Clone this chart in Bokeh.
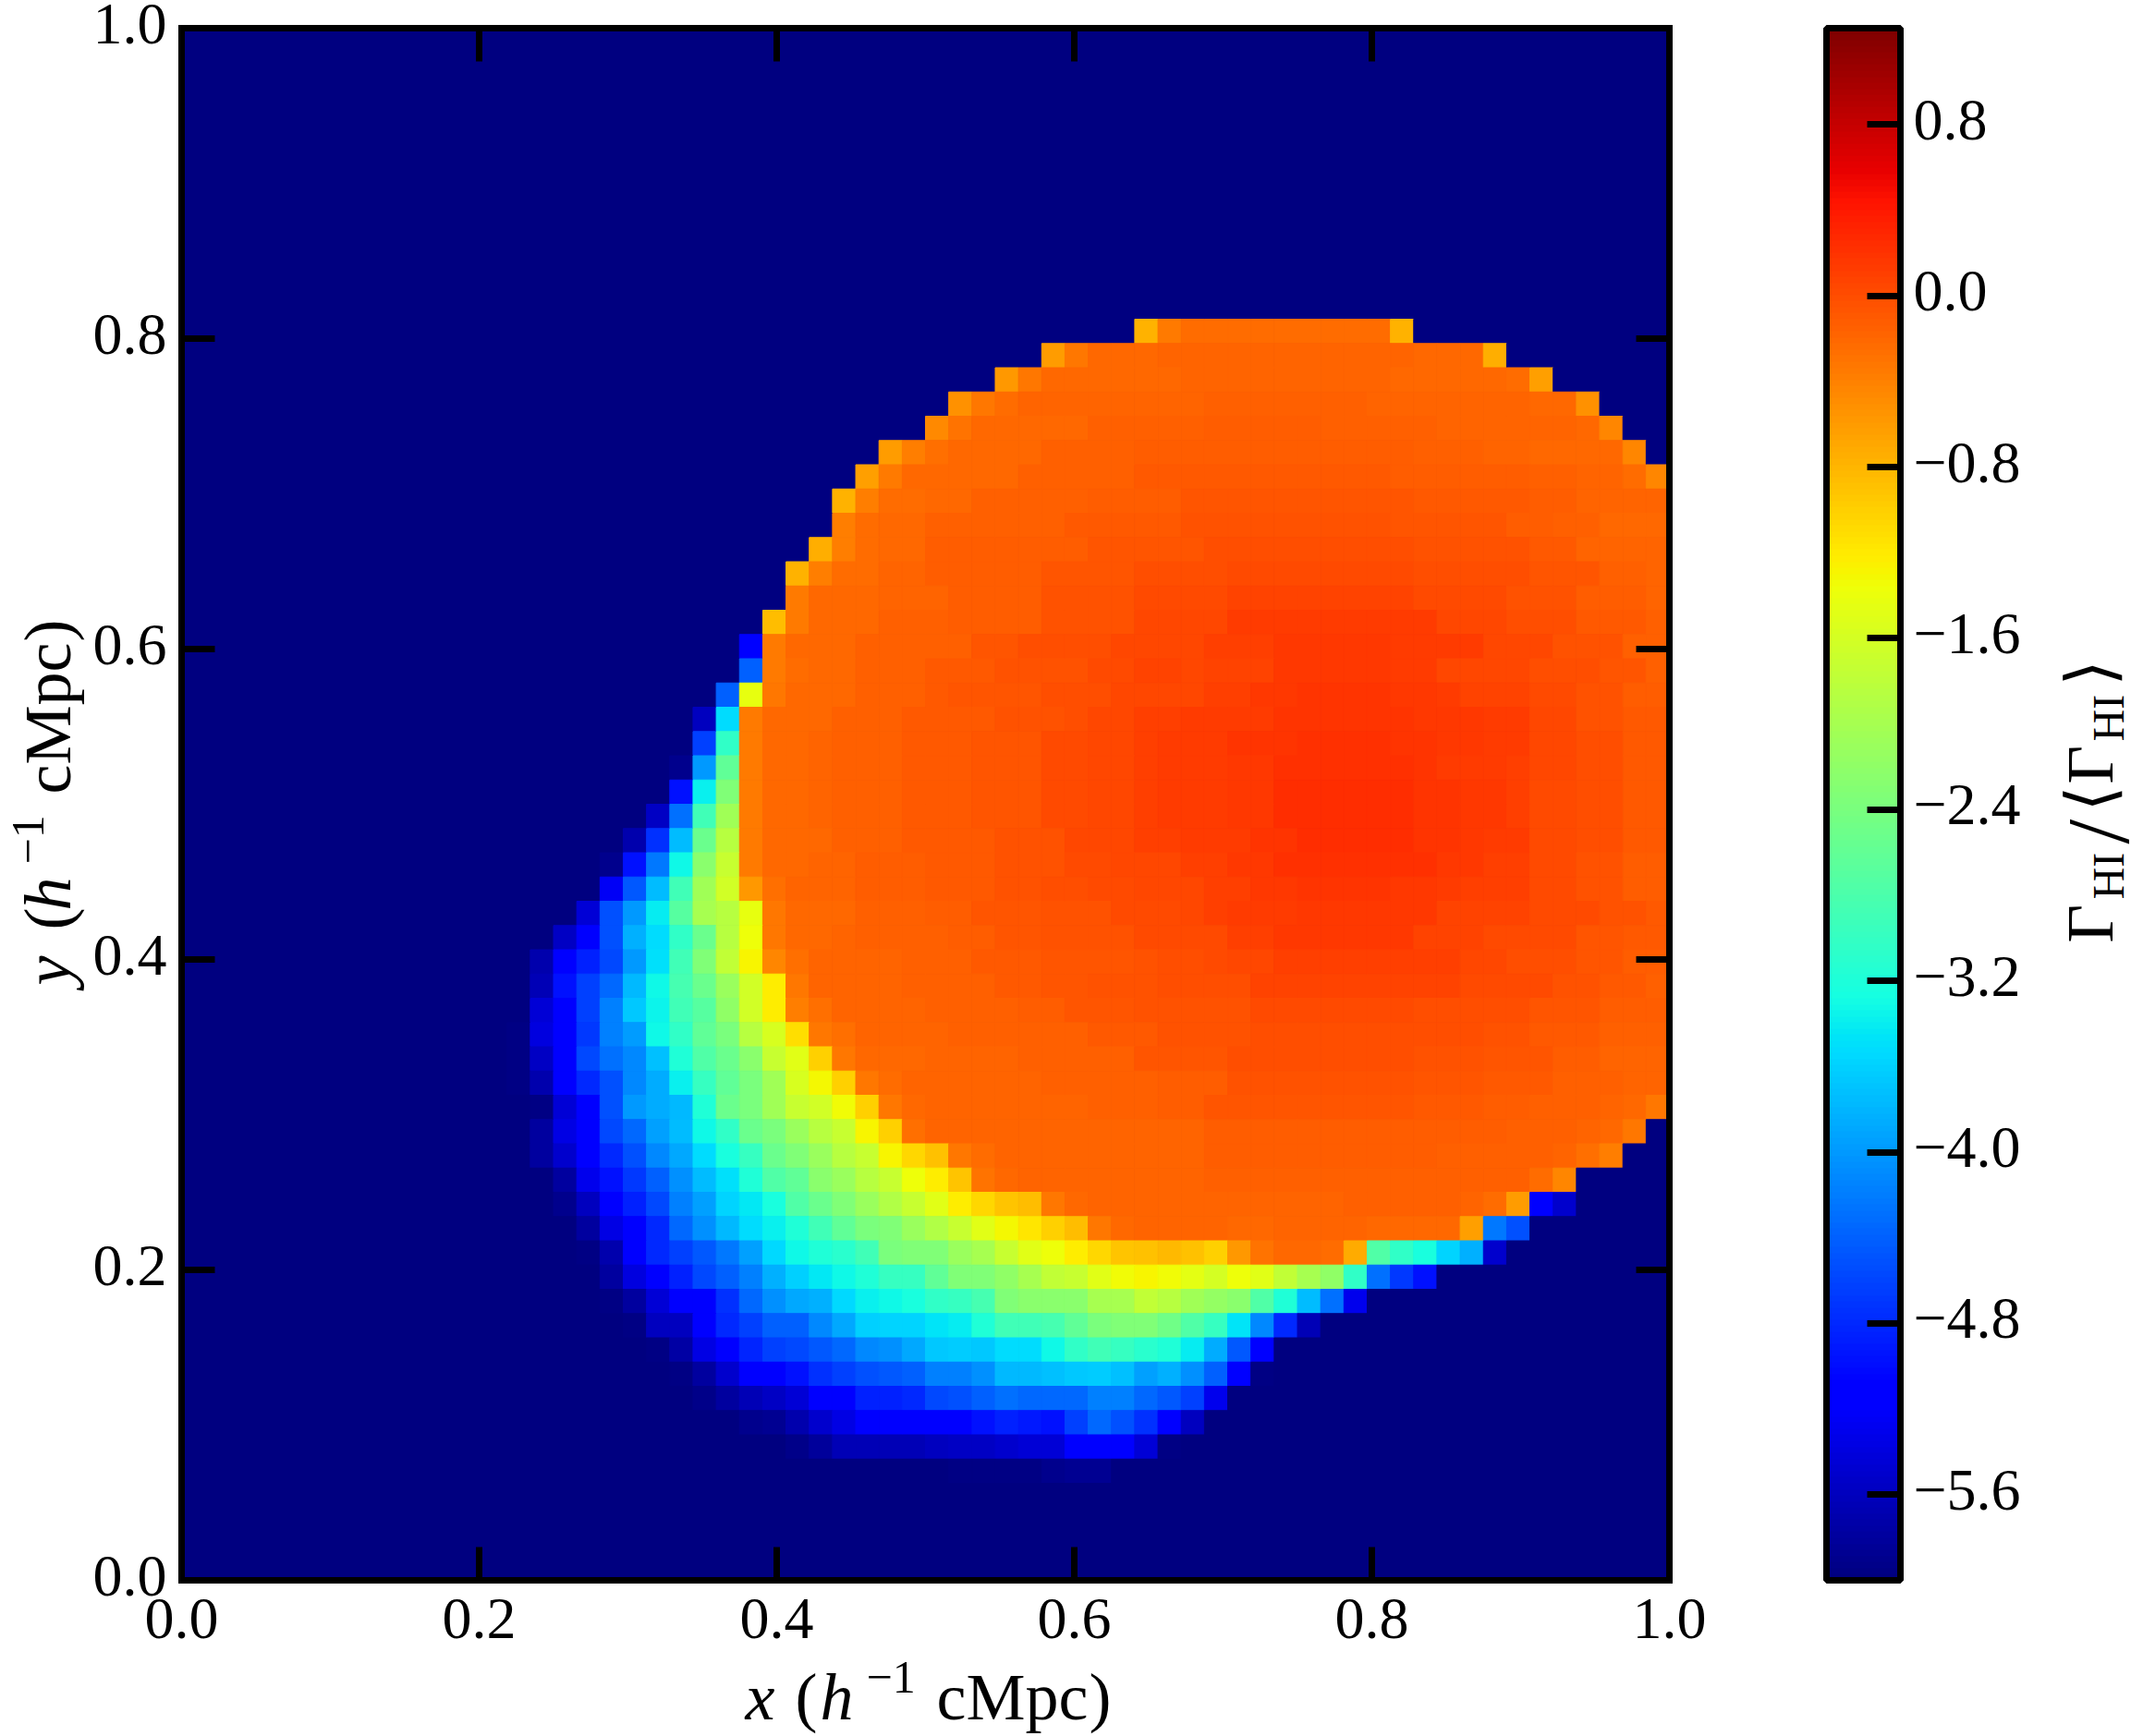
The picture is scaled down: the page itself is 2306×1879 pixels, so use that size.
from bokeh.embed import file_html
from bokeh.resources import INLINE
from bokeh.plotting import figure
from bokeh.models import (ColorBar, ColumnDataSource, FixedTicker, Label, LinearAxis,
                          LinearColorMapper, PrintfTickFormatter, Range1d)
from bokeh.transform import linear_cmap
import numpy as np

N = 64
LO = -6.0
v_low, v_high = -6.0, 1.25
axis_ticks = [0.0, 0.2, 0.4, 0.6, 0.8, 1.0]
bar_ticks = [-5.6, -4.8, -4.0, -3.2, -2.4, -1.6, -0.8, 0.0, 0.8]
bar_tick_labels = ["\u22125.6", "\u22124.8", "\u22124.0", "\u22123.2", "\u22122.4", "\u22121.6", "\u22120.8", "0.0", "0.8"]

# log10 ratio per cell, rows from the top of the map
left_core = [-.35] + [-.20]*2 + [-.18] + [-.14]*3 + [-.09]*3 + [-.06]*3 + [.02]*2 + [.05]*2 + [.11] + [.12]*2 + [.14]
row_12 = [LO]*41 + [-.78, -.35] + [-.23]*9 + [-.78]
row_13 = [LO]*37 + [-.60, -.32] + [-.21]*3 + [-.18]*11 + [-.21]*3 + [-.75]
row_14 = [LO]*35 + [-.57, -.32] + [-.20]*6 + [-.17]*9 + [-.20]*5 + [-.23] + [-.63]
row_15 = [LO]*33 + [-.51, -.32, -.23] + [-.18]*8 + [-.14]*7 + [-.17]*4 + [-.18]*3 + [-.21]*2 + [-.51]
row_16 = [LO]*32 + [-.47, -.29] + [-.20]*5 + [-.15]*5 + [-.12]*5 + [-.15]*5 + [-.18]*6 + [-.21] + [-.44]
row_17 = [LO]*30 + [-.60, -.38, -.26] + [-.20]*4 + [-.15]*4 + [-.12]*12 + [-.14]*3 + [-.17]*2 + [-.20]*4 + [-.44]
row_18 = [LO]*29 + [-.63, -.35] + [-.20]*5 + [-.15]*5 + [-.09]*11 + [-.12]*6 + [-.15]*2 + [-.18]*2 + [-.23] + [-.44]
row_19 = [LO]*28 + [-.78, -.38] + [-.23]*2 + [-.20]*2 + [-.15]*5 + [-.12]*4 + [-.06]*10 + [-.09]*5 + [-.12]*2 + [-.18]*4
row_20 = [LO]*28 + [-.38, -.23] + [-.20]*2 + [-.14]*6 + [-.09]*5 + [-.03]*9 + [-.06]*5 + [-.11]*2 + [-.14]*2 + [-.20]*3
row_21 = [LO]*27 + [-.75, -.38, -.23] + [-.20]*2 + [-.12]*7 + [-.06]*5 + [-.01]*9 + [-.04]*5 + [-.09]*2 + [-.17]*4
row_22 = [LO]*26 + [-.78, -.38] + [-.23]*2 + [-.17]*2 + [-.12]*5 + [-.08]*4 + [-.01]*4 + [.03]*8 + [-.01]*5 + [-.08]*3 + [-.15]*2 + [-.18]
row_23 = [LO]*26 + [-.35] + [-.21]*3 + [-.17]*3 + [-.12]*4 + [-.04]*4 + [.02]*4 + [.08]*8 + [.02]*4 + [-.04]*3 + [-.12]*3 + [-.18]
row_24 = [LO]*25 + [-.87, -.35] + [-.20]*3 + [-.15]*3 + [-.11]*4 + [-.03]*4 + [.05]*4 + [.12]*9 + [.05]*3 + [-.01]*3 + [-.09]*3 + [-.15]
row_25 = [LO]*24 + [-5.2, -.35] + [-.21]*3 + [-.14]*5 + [-.06]*2 + [-.01]*4 + [.05]*4 + [.09]*3 + [.17]*5 + [.12]*4 + [.05]*3 + [-.03]*3 + [-.14]*2
row_26 = [LO]*24 + [-4.41, -.35, -.23] + [-.20]*2 + [-.14]*3 + [-.09]*3 + [-.03]*4 + [.02]*2 + [.08]*2 + [.06] + [.08]*3 + [.155]*5 + [.12]*2 + [.06]*4 + [0.0]*3 + [-.08]*2 + [-.14]
row_27 = [LO]*23 + [-4.41, -1.42, -.32, -.21] + [-.20]*2 + [-.14]*3 + [-.09] + [-.06]*4 + [0.0]*3 + [.05]*4 + [.11]*2 + [.17]*2 + [.20]*4 + [.155]*2 + [.12] + [.08]*3 + [.02]*2 + [-.04]*2 + [-.12]*2
row_28 = [LO]*22 + [-5.6, -3.53, -.35] + [-.20]*3 + [-.14]*3 + [-.09]*4 + [-.04]*3 + [0.0] + [.06]*2 + [.11]*2 + [.12]*2 + [.14]*2 + [.20]*6 + [.155]*3 + [.12]*2 + [.05]*2 + [-.03]*2 + [-.09]*2
row_29 = [LO]*22 + [-4.64, -3.04] + left_core + [.19]*3 + [.23]*4 + [.19]*2 + [.155]*2 + [.12]*2 + [.05]*2 + [-.01]*2 + [-.09]*2
row_30 = [LO]*21 + [-5.9, -4.01, -2.61] + left_core + [.17]*2 + [.23]*6 + [.19] + [.14]*3 + [.09] + [.05]*2 + [-.01]*2 + [-.09]*2
row_31 = [LO]*21 + [-4.98, -3.39, -2.33] + left_core + [.17]*2 + [.25]*6 + [.19]*2 + [.17]*2 + [.11] + [.03]*2 + [-.01]*2 + [-.09]*2
row_32 = [LO]*20 + [-5.55, -4.29, -2.9, -2.05] + left_core + [.17]*2 + [.25]*6 + [.19]*2 + [.17]*2 + [.11] + [.03]*2 + [-.01]*2 + [-.09]*2
row_33 = [LO]*19 + [-5.7, -4.75, -3.75, -2.54, -1.84, -.35] + [-.20]*3 + [-.14]*3 + [-.09]*4 + [-.03]*3 + [.05]*3 + [.09]*2 + [.14]*3 + [.19]*2 + [.25]*5 + [.20]*2 + [.17] + [.12]*2 + [.03]*2 + [-.01]*2 + [-.09]*2
row_34 = [LO]*18 + [-5.9, -4.98, -4.24, -3.32, -2.26, -1.7, -.35] + [-.21]*2 + [-.18]*2 + [-.12]*3 + [-.09]*3 + [-.03]*3 + [.03]*2 + [.06]*3 + [.11]*2 + [.155]*2 + [.22]*7 + [.17]*2 + [.11]*2 + [.03]*2 + [-.03]*2 + [-.11]*2
row_35 = [LO]*18 + [-5.25, -4.46, -3.75, -2.9, -2.05, -1.63, -.57, -.26] + [-.18]*3 + [-.12]*3 + [-.09]*3 + [-.04]*2 + [-.01]*2 + [.03]*2 + [.06]*3 + [.09]*2 + [.155]*2 + [.20]*4 + [.17]*2 + [.12] + [.09]*3 + [.03]*2 + [-.03]*2 + [-.11]*2
row_36 = [LO]*17 + [-5.45, -4.52, -4.01, -3.4, -2.69, -1.98, -1.84, -1.42, -.32] + [-.20]*3 + [-.14]*3 + [-.11]*2 + [-.06]*3 + [-.03]*3 + [.02]*3 + [.05, .09] + [.14]*3 + [.17]*6 + [.08]*4 + [.02]*3 + [-.04]*2 + [-.09]
row_37 = [LO]*16 + [-5.55, -5.2, -4.52, -3.84, -3.53, -3.04, -2.54, -1.84, -1.38, -.32] + [-.21]*2 + [-.18] + [-.14]*4 + [-.11]*2 + [-.08]*2 + [-.03]*4 + [.02]*2 + [.03]*2 + [.11]*2 + [.155]*6 + [.08]*3 + [.02]*4 + [-.06]*2 + [-.09]*2
row_38 = [LO]*15 + [-5.7, -5.2, -4.86, -4.58, -4.01, -3.5, -2.9, -2.33, -1.77, -1.28, -.44, -.26] + [-.18]*4 + [-.14]*3 + [-.09]*3 + [-.06]*4 + [-.03] + [0.0]*2 + [.02] + [.06]*2 + [.09]*8 + [.05]*2 + [0.0]*3 + [-.06]*2 + [-.12]*2
row_39 = [LO]*15 + [-5.65, -4.98, -4.64, -4.35, -3.78, -3.32, -2.83, -2.54, -2.12, -1.63, -1.24, -.32] + [-.18]*4 + [-.14]*4 + [-.09]*2 + [-.08]*2 + [-.04]*3 + [-.01]*2 + [0.0]*2 + [.08]*9 + [.02]*4 + [-.03]*2 + [-.09]*2 + [-.15]
row_40 = [LO]*15 + [-5.45, -5.2, -4.64, -4.18, -3.67, -3.35, -2.9, -2.69, -2.19, -1.63, -1.24, -.38, -.26] + [-.18]*4 + [-.14]*4 + [-.11]*2 + [-.08]*3 + [-.04]*2 + [-.03]*3 + [.02]*7 + [-.01]*5 + [-.06]*3 + [-.12]*3
row_41 = [LO]*14 + [-5.95, -5.4, -5.2, -4.69, -4.18, -3.98, -3.32, -3.04, -2.61, -2.4, -1.84, -1.56, -1.12, -.32, -.26] + [-.18]*4 + [-.14]*6 + [-.09]*3 + [-.04]*3 + [-.03] + [-.01]*10 + [-.04]*2 + [-.09]*3 + [-.15]*3
row_42 = [LO]*14 + [-5.95, -5.55, -5.2, -4.58, -4.29, -4.12, -3.73, -3.18, -2.76, -2.54, -2.26, -1.7, -1.49, -1.0, -.32] + [-.21]*3 + [-.18]*4 + [-.14]*5 + [-.08]*4 + [-.01]*8 + [-.03]*3 + [-.06]*3 + [-.11]*2 + [-.17]*3
row_43 = [LO]*14 + [-5.95, -5.7, -5.2, -4.81, -4.52, -4.12, -3.87, -3.38, -2.97, -2.61, -2.4, -2.05, -1.56, -1.31, -1.0, -.32, -.23] + [-.18]*6 + [-.15]*5 + [-.11]*3 + [-.04]*8 + [-.06]*3 + [-.09]*3 + [-.14]*3 + [-.18]*2
row_44 = [LO]*15 + [-5.95, -5.45, -5.2, -4.52, -4.01, -3.87, -3.78, -3.18, -2.54, -2.4, -2.05, -1.7, -1.63, -1.35, -1.0, -.32, -.2] + [-.17]*7 + [-.14]*3 + [-.11]*2 + [-.08]*9 + [-.09]*3 + [-.11]*2 + [-.14]*3 + [-.17, -.20, -.32]
row_45 = [LO]*15 + [-5.8, -5.35, -5.2, -4.58, -4.35, -3.95, -3.75, -3.32, -3.04, -2.54, -2.4, -2.12, -1.84, -1.7, -1.28, -1.0, -.26, -.18] + [-.17]*11 + [-.11]*10 + [-.12]*3 + [-.14]*3 + [-.17, -.21, -.32]
row_46 = [LO]*15 + [-5.8, -5.5, -5.2, -4.81, -4.52, -4.12, -3.9, -3.53, -3.25, -2.97, -2.54, -2.33, -2.12, -1.84, -1.7, -1.28, -1.06, -.9, -.32, -.23] + [-.17]*9 + [-.12]*10 + [-.14]*3 + [-.15]*2 + [-.18, -.26, -.38]
row_47 = [LO]*16 + [-5.8, -5.3, -4.98, -4.69, -4.41, -4.07, -3.75, -3.5, -3.18, -2.76, -2.61, -2.26, -2.12, -1.84, -1.7, -1.38, -1.24, -.93, -.29, -.2] + [-.17]*8 + [-.14]*11 + [-.15]*3 + [-.23, -.44]
row_48 = [LO]*16 + [-5.9, -5.6, -5.2, -4.86, -4.58, -4.18, -3.95, -3.58, -3.44, -3.25, -2.76, -2.54, -2.33, -2.12, -1.91, -1.7, -1.49, -1.24, -1.06, -.93, -.87, -.32, -.2] + [-.18]*5 + [-.17]*6 + [-.15]*5 + [-.18, -.23, -.60, -5.2, -5.5]
row_49 = [LO]*17 + [-5.8, -5.35, -5.2, -4.81, -4.35, -4.07, -3.78, -3.53, -3.38, -3.18, -2.9, -2.61, -2.4, -2.33, -2.12, -1.91, -1.7, -1.49, -1.31, -1.18, -1.0, -.87, -.32, -.2] + [-.17]*4 + [-.20]*2 + [-.18]*4 + [-.20]*4 + [-.63, -4.24, -4.52]
row_50 = [LO]*17 + [-5.97, -5.7, -5.2, -4.81, -4.64, -4.46, -4.24, -3.95, -3.555, -3.32, -3.18, -3.11, -2.9, -2.4, -2.33, -2.33, -2.12, -1.98, -1.7, -1.49, -1.38, -1.24, -1.06, -.93, -.9, -.84, -.9, -1.0, -.57, -.29, -.2, -.2, -.23, -.72, -2.76, -3.04, -3.25, -3.58, -3.84, -5.5]
row_51 = [LO]*18 + [-5.8, -5.4, -5.2, -4.86, -4.58, -4.41, -4.18, -3.84, -3.61, -3.44, -3.32, -3.18, -2.97, -2.97, -2.61, -2.33, -2.33, -2.19, -1.98, -1.77, -1.7, -1.49, -1.35, -1.28, -1.35, -1.45, -1.6, -1.38, -1.49, -1.77, -1.98, -2.19, -3.04, -4.29, -4.69, -4.98]
row_52 = [LO]*18 + [-5.97, -5.8, -5.45, -5.2, -5.2, -4.75, -4.35, -4.07, -3.9, -3.84, -3.555, -3.39, -3.32, -3.25, -3.04, -2.97, -2.83, -2.33, -2.26, -2.26, -2.26, -1.98, -1.98, -1.77, -1.84, -2.05, -2.15, -2.26, -2.76, -3.18, -3.75, -4.29, -5.3]
row_53 = [LO]*19 + [-5.95, -5.6, -5.6, -5.2, -4.81, -4.64, -4.41, -4.41, -4.12, -3.9, -3.61, -3.58, -3.58, -3.47, -3.4, -3.18, -2.9, -2.9, -2.83, -2.61, -2.4, -2.33, -2.33, -2.47, -2.76, -2.97, -3.47, -4.12, -4.81, -5.65]
row_54 = [LO]*19 + [-5.98, -5.95, -5.75, -5.35, -5.2, -4.83, -4.64, -4.58, -4.46, -4.35, -4.12, -4.07, -3.9, -3.67, -3.64, -3.67, -3.53, -3.53, -3.32, -3.04, -2.9, -2.97, -3.11, -3.18, -3.41, -3.87, -4.46, -5.2]
row_55 = [LO]*21 + [-5.95, -5.8, -5.5, -5.2, -5.2, -4.98, -4.75, -4.64, -4.52, -4.46, -4.41, -4.18, -4.18, -4.07, -3.78, -3.78, -3.73, -3.67, -3.64, -3.73, -3.95, -3.84, -4.07, -4.41, -5.2, -5.97]
row_56 = [LO]*22 + [-5.92, -5.8, -5.65, -5.55, -5.45, -5.2, -5.1, -4.86, -4.86, -4.81, -4.58, -4.52, -4.41, -4.29, -4.35, -4.35, -4.35, -4.18, -4.18, -4.35, -4.46, -4.64, -5.3]
row_57 = [LO]*23 + [-5.99, -5.9, -5.87, -5.7, -5.5, -5.35, -5.2, -5.2, -5.2, -5.2, -5.2, -4.98, -4.86, -4.92, -4.98, -4.64, -4.35, -4.52, -4.75, -5.2, -5.6]
row_58 = [LO]*26 + [-5.92, -5.82, -5.65, -5.65, -5.65, -5.65, -5.6, -5.55, -5.55, -5.5, -5.45, -5.45, -5.2, -5.2, -5.2, -5.45, -5.95]
row_59 = [LO]*28 + [-5.99, -5.98, -5.99, -5.99, -5.99, -5.97, -5.97, -5.97, -5.97, -5.9, -5.87, -5.87, -5.98]

rows_from_top = {12: row_12, 13: row_13, 14: row_14, 15: row_15, 16: row_16, 17: row_17, 18: row_18,
                 19: row_19, 20: row_20, 21: row_21, 22: row_22, 23: row_23, 24: row_24, 25: row_25,
                 26: row_26, 27: row_27, 28: row_28, 29: row_29, 30: row_30, 31: row_31, 32: row_32,
                 33: row_33, 34: row_34, 35: row_35, 36: row_36, 37: row_37, 38: row_38, 39: row_39,
                 40: row_40, 41: row_41, 42: row_42, 43: row_43, 44: row_44, 45: row_45, 46: row_46,
                 47: row_47, 48: row_48, 49: row_49, 50: row_50, 51: row_51, 52: row_52, 53: row_53,
                 54: row_54, 55: row_55, 56: row_56, 57: row_57, 58: row_58, 59: row_59}

grid = np.full((N, N), LO)
for r, vals in rows_from_top.items():
    vals = vals[:N]
    grid[r, :len(vals)] = vals

# matplotlib "jet"
t = np.linspace(0, 1, 256)
red = np.interp(t, [0, .35, .66, .89, 1], [0, 0, 1, 1, .5])
green = np.interp(t, [0, .125, .375, .64, .91, 1], [0, 0, 1, 1, 0, 0])
blue = np.interp(t, [0, .11, .34, .65, 1], [.5, 1, 1, 0, 0])
jet = ["#%02x%02x%02x" % (int(round(a*255)), int(round(b*255)), int(round(c*255))) for a, b, c in zip(red, green, blue)]

FONT = "Liberation Serif"
W, H = 2306, 1879
# the map's place on the page; the plotting frame covers the whole page
MAP_L, MAP_T, MAP_W, MAP_H = 196, 30, 1610, 1680
MAP_B = MAP_T + MAP_H
BAR_L, BAR_W = 1976, 80
LIFT = 5  # tick labels sit this many pixels above their ticks

y0, y1 = -(H - MAP_B) / MAP_H, MAP_B / MAP_H
p = figure(width=W, height=H,
           x_range=Range1d(-MAP_L / MAP_W, (W - MAP_L) / MAP_W),
           y_range=Range1d(y0, y1),
           x_axis_location=None, y_axis_location=None,
           output_backend="svg", toolbar_location=None,
           min_border_left=0, min_border_top=0, min_border_right=0, min_border_bottom=0)
p.grid.visible = False
p.outline_line_color = None
p.background_fill_color = "white"
per_px = (v_high - v_low) / MAP_H
p.extra_y_ranges = {
    "lifted": Range1d(y0 - LIFT / MAP_H, y1 - LIFT / MAP_H),
    "bar": Range1d(v_low - (H - MAP_B + LIFT) * per_px, v_low + (MAP_B - LIFT) * per_px),
}

rr, cc = np.mgrid[0:N, 0:N]
src = ColumnDataSource(dict(left=(cc.ravel()) / N, right=(cc.ravel() + 1) / N,
                            top=1 - rr.ravel() / N, bottom=1 - (rr.ravel() + 1) / N,
                            value=grid.ravel()))
p.quad(left=[0], right=[1], top=[1], bottom=[0], fill_color=jet[0], line_color=jet[0])
cmap = linear_cmap("value", jet, v_low, v_high)
p.quad(left="left", right="right", top="top", bottom="bottom", source=src,
       fill_color=cmap, line_color=cmap, line_width=1)


def base_axis(ax, ticks, side, labels, standoff):
    ax.ticker = FixedTicker(ticks=ticks)
    ax.minor_tick_line_color = None
    ax.major_tick_in = 36
    ax.major_tick_out = 0
    ax.major_tick_line_width = 7
    ax.major_tick_line_color = "black"
    ax.axis_line_width = 7
    ax.axis_line_color = "black"
    ax.axis_line_cap = "square"
    ax.major_label_text_font = FONT
    ax.major_label_text_font_size = "64px" if labels else "1px"
    ax.major_label_text_color = "black"
    ax.major_label_standoff = standoff
    p.add_layout(ax, side)


def frame_axis(side, where, labels=False, standoff=0):
    ax = LinearAxis(fixed_location=where, bounds=(0, 1))
    ax.formatter = PrintfTickFormatter(format="%.1f")
    if not labels:
        ax.major_label_overrides = {k: "" for k in axis_ticks}
    base_axis(ax, axis_ticks, side, labels, standoff)


frame_axis("below", 0, labels=True, standoff=20)
frame_axis("left", 0)
frame_axis("above", 1)
frame_axis("right", 1)

# tick labels of the y axis and of the colour bar, each on a range lifted by LIFT pixels
y_labels = LinearAxis(fixed_location=0, y_range_name="lifted", formatter=PrintfTickFormatter(format="%.1f"))
base_axis(y_labels, axis_ticks, "left", True, 16)
y_labels.axis_line_color = None
y_labels.major_tick_line_color = None

bar_labels = LinearAxis(fixed_location=(BAR_L + BAR_W - MAP_L) / MAP_W, y_range_name="bar",
                        major_label_overrides={k: s for k, s in zip(bar_ticks, bar_tick_labels)})
base_axis(bar_labels, bar_ticks, "right", True, 14)
bar_labels.axis_line_color = None
bar_labels.major_tick_line_color = None

mapper = LinearColorMapper(palette=jet, low=v_low, high=v_high)
bar = ColorBar(color_mapper=mapper, ticker=FixedTicker(ticks=bar_ticks),
               major_label_overrides={k: "" for k in bar_ticks},
               width=BAR_W, height=MAP_H, padding=0, location=(BAR_L, H - MAP_B),
               background_fill_color=None, border_line_color=None,
               bar_line_color="black", bar_line_width=7,
               major_tick_line_color="black", major_tick_line_width=7,
               major_tick_in=36, major_tick_out=0, minor_tick_line_color=None,
               major_label_text_font_size="1px")
p.add_layout(bar, "center")


def put(text, px, py, size, font_style="normal", angle=0, font=FONT):
    # anchored at the map's lower-left corner, shifted in pixels;
    # the 0.3 em takes out the distance Bokeh leaves below an alphabetic baseline
    drop = 0.3 * size
    dx, dy = (-drop, 0) if angle else (0, drop)
    p.add_layout(Label(x=0, y=0, x_offset=px - MAP_L + dx, y_offset=MAP_B - py + dy, text=text,
                       text_font=font, text_font_size=f"{size}px", text_font_style=font_style,
                       text_baseline="alphabetic", text_align="left", text_color="black",
                       angle=angle, angle_units="deg"))


# x label, composed
base = 1858
put("x", 806, base, 72, "italic")
put("(", 860, base, 72)
put("h", 887, base, 72, "italic")
put("\u22121", 937, base - 28, 50)
put("cMpc", 1013, base, 72)
put(")", 1178, base, 72)

# y label, composed
bx = 73
put("y", bx, 1066, 72, "italic", 90)
put("(", bx, 1006, 72, "normal", 90)
put("h", bx, 985, 72, "italic", 90)
put("\u22121", bx - 28, 935, 50, "normal", 90)
put("cMpc", bx, 859, 72, "normal", 90)
put(")", bx, 694, 72, "normal", 90)

# colour bar label, composed
cx = 2283
put("\u0393", cx, 1020, 72, "normal", 90)
put("HI", 2295, 973, 48, "normal", 90)
put("/", 2299, 913, 96, "normal", 90)
put("\u27e8", cx, 878, 72, "normal", 90, "DejaVu Serif")
put("\u0393", cx, 848, 72, "normal", 90)
put("HI", 2295, 802, 48, "normal", 90)
put("\u27e9", cx, 742, 72, "normal", 90, "DejaVu Serif")

open("out.html", "w").write(file_html(p, INLINE))
